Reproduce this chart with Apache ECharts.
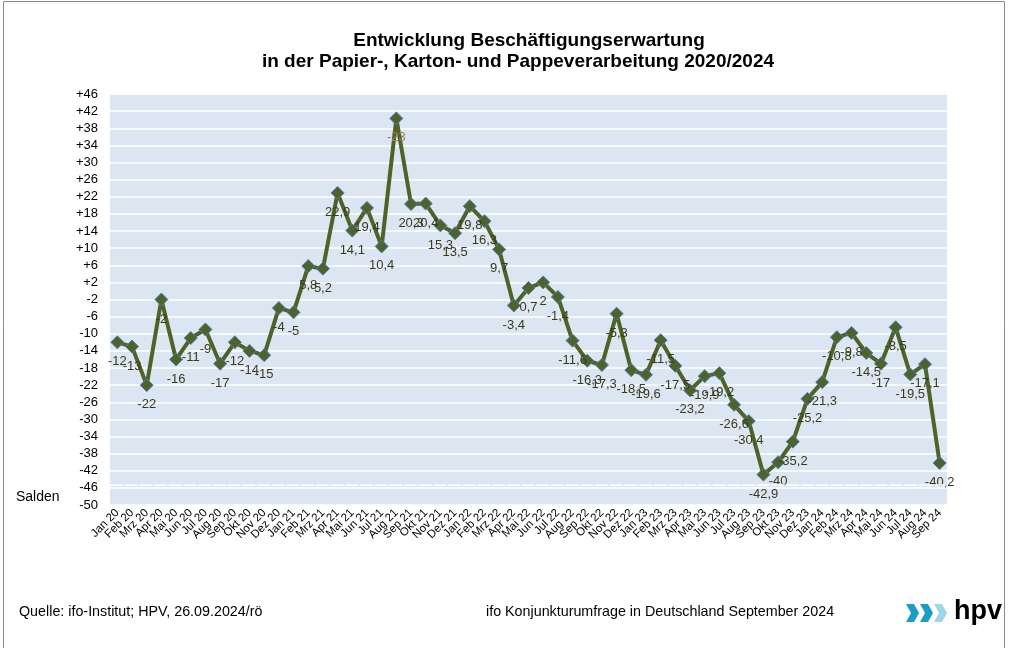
<!DOCTYPE html>
<html>
<head>
<meta charset="utf-8">
<script src="https://cdn.jsdelivr.net/npm/echarts@6/dist/echarts.min.js"></script>
<style>
  html, body { margin: 0; padding: 0; background: #fff; }
  #main { width: 1009px; height: 648px; }
</style>
</head>
<body>
<div id="main"></div>
<script>
    // Monate Jan 20 - Sep 24
    const months = [
        "Jan 20", "Feb 20", "Mrz 20", "Apr 20", "Mai 20", "Jun 20", "Jul 20", "Aug 20", "Sep 20", "Okt 20", "Nov 20", "Dez 20",
        "Jan 21", "Feb 21", "Mrz 21", "Apr 21", "Mai 21", "Jun 21", "Jul 21", "Aug 21", "Sep 21", "Okt 21", "Nov 21", "Dez 21",
        "Jan 22", "Feb 22", "Mrz 22", "Apr 22", "Mai 22", "Jun 22", "Jul 22", "Aug 22", "Sep 22", "Okt 22", "Nov 22", "Dez 22",
        "Jan 23", "Feb 23", "Mrz 23", "Apr 23", "Mai 23", "Jun 23", "Jul 23", "Aug 23", "Sep 23", "Okt 23", "Nov 23", "Dez 23",
        "Jan 24", "Feb 24", "Mrz 24", "Apr 24", "Mai 24", "Jun 24", "Jul 24", "Aug 24", "Sep 24"
    ];
    // Salden
    const salden = [
        -12, -13, -22, -2, -16, -11, -9, -17, -12, -14, -15, -4,
        -5, 5.8, 5.2, 22.9, 14.1, 19.4, 10.4, 40.3, 20.3, 20.4, 15.3, 13.5,
        19.8, 16.3, 9.7, -3.4, 0.7, 2, -1.4, -11.6, -16.3, -17.3, -5.3, -18.5,
        -19.6, -11.5, -17.5, -23.2, -19.9, -19.2, -26.6, -30.4, -42.9, -40, -35.2, -25.2,
        -21.3, -10.8, -9.8, -14.5, -17, -8.5, -19.5, -17.1, -40.2
    ];
    // Beschriftung im Original abweichend (Aug 21)
    const labelOverride = {19: "-23"};
    const yMin = -50, yMax = 46, yStep = 4;
    const axisCross = -45.2;

    const font = "'Liberation Sans', Arial, sans-serif";
    const narrow = "'Liberation Sans Narrow', 'Arial Narrow', 'Liberation Sans', sans-serif";

    const seriesData = salden.map(function (v, i) {
        if (labelOverride[i] !== undefined) {
            return {value: v, label: {formatter: labelOverride[i], color: '#a37d4f'}};
        }
        return v;
    });

    const myChart = echarts.init(document.getElementById('main'));
    const option = {
        animation: false,
        textStyle: {fontFamily: font},
        grid: {
            left: 110, right: 62, top: 94, bottom: 143,
            show: true, backgroundColor: '#dce6f2', borderWidth: 0
        },
        graphic: [
            {type: 'rect', shape: {x: 3.5, y: 1.5, width: 1001, height: 660}, style: {fill: 'none', stroke: '#8c8c8c', lineWidth: 1}, silent: true},
            {type: 'text', x: 529, y: 41, style: {text: 'Entwicklung Beschäftigungserwartung', font: 'bold 19px ' + font, fill: '#000', align: 'center', verticalAlign: 'middle'}},
            {type: 'text', x: 518, y: 62, style: {text: 'in der Papier-, Karton- und Pappeverarbeitung 2020/2024', font: 'bold 19px ' + font, fill: '#000', align: 'center', verticalAlign: 'middle'}},
            {type: 'text', x: 16, y: 497, style: {text: 'Salden', font: '14px ' + font, fill: '#000', verticalAlign: 'middle'}},
            {type: 'text', x: 19, y: 612, style: {text: 'Quelle: ifo-Institut; HPV, 26.09.2024/rö', font: '14.3px ' + narrow, fill: '#000', verticalAlign: 'middle'}},
            {type: 'text', x: 486, y: 612, style: {text: 'ifo Konjunkturumfrage in Deutschland September 2024', font: '14.3px ' + narrow, fill: '#000', verticalAlign: 'middle'}},
            {type: 'polygon', shape: {points: [[906, 604], [914, 604], [919, 613], [914, 622], [906, 622], [911, 613]]}, style: {fill: '#1b9dc6'}},
            {type: 'polygon', shape: {points: [[920, 604], [928, 604], [933, 613], [928, 622], [920, 622], [925, 613]]}, style: {fill: '#1b9dc6'}},
            {type: 'polygon', shape: {points: [[934, 604], [942, 604], [947, 613], [942, 622], [934, 622], [939, 613]]}, style: {fill: '#9fd6ea'}},
            {type: 'text', x: 954, y: 612, style: {text: 'hpv', font: 'bold 27px ' + font, fill: '#000', verticalAlign: 'middle'}}
        ],
        xAxis: {
            type: 'category',
            data: months,
            boundaryGap: true,
            axisLine: {show: false},
            axisTick: {show: false},
            axisLabel: {rotate: 45, interval: 0, fontSize: 11.5, color: '#000', margin: 6}
        },
        yAxis: {
            type: 'value',
            min: yMin, max: yMax, interval: yStep,
            axisLine: {show: false},
            axisTick: {show: false},
            axisLabel: {
                fontSize: 13, color: '#000', margin: 12,
                formatter: function (v) {
                    return v > 0 ? '+' + v : String(v);
                }
            },
            splitLine: {lineStyle: {color: '#ffffff', width: 1.5}}
        },
        series: [{
            name: 'Salden',
            type: 'line',
            data: seriesData,
            symbol: 'diamond',
            symbolSize: 13,
            lineStyle: {color: '#4f6228', width: 4},
            itemStyle: {color: '#4f6228', borderColor: '#4a7ebb', borderWidth: 1},
            label: {
                show: true,
                position: 'bottom',
                distance: 6,
                fontSize: 13,
                color: '#3b3b1c',
                formatter: function (p) {
                    return String(p.value).replace('.', ',');
                }
            },
            markLine: {
                silent: true,
                symbol: 'none',
                label: {show: false},
                lineStyle: {color: '#ffffff', width: 1.5, type: [13, 1.7]},
                data: [{yAxis: axisCross}]
            },
            z: 3
        }]
    };
    myChart.setOption(option);
</script>
</body>
</html>
